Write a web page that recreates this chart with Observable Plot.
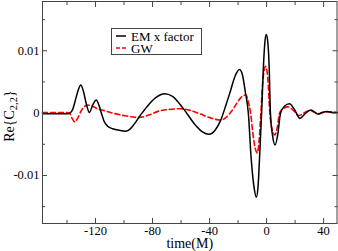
<!DOCTYPE html>
<html>
<head>
<meta charset="utf-8">
<script src="https://cdn.jsdelivr.net/npm/d3@7"></script>
<script src="https://cdn.jsdelivr.net/npm/@observablehq/plot@0.6"></script>
<style>
  html, body { margin: 0; padding: 0; background: #fff; }
  #wrap { position: relative; width: 338px; height: 251px; font-family: "Liberation Serif", "DejaVu Serif", serif; }
  #legend { position: absolute; left: 111px; top: 28px; width: 89px; height: 25px; border: 1px solid #444; background: #fff; font-size: 13px; line-height: 11px; }
  #legend .row { position: absolute; left: 4px; height: 11px; display: flex; align-items: center; white-space: nowrap; }
  #legend span { line-height: 11px; }
  #legend svg { margin-right: 5px; }
</style>
</head>
<body>
<div id="wrap"></div>
<script>
// ---- data ----
const emTime = [-157.2, -145, -139, -137.5, -136, -134, -132, -130.3, -128.5, -126.5, -124.3, -122, -119.5, -117.5, -115.5, -114, -111.5, -108, -104, -99, -96, -93, -88.4, -82.6, -77, -71.6, -66, -58, -50, -45, -40.5, -36, -32.3, -28.5, -25.3, -22, -19, -17, -15, -12.8, -10.8, -8.6, -7.2, -6, -5, -3.5, -2, -1, -0.2, 0.8, 1.8, 2.7, 4.2, 6, 7.8, 9.8, 12.5, 16.1, 19.5, 23.4, 27, 30.9, 33.5, 36, 39, 42.6, 46, 49.4];
const emValue = [-0.0001, -0.0001, -0.0001, 0.0001, 0.0006, 0.0022, 0.0038, 0.0045, 0.0035, 0.0015, 0.0001, 0.0013, 0.0021, 0.0012, -0.0003, -0.0013, -0.0021, -0.0025, -0.0027, -0.0029, -0.0026, -0.0018, -0.0003, 0.0014, 0.0026, 0.0031, 0.0027, 0.0006, -0.0019, -0.0030, -0.0034, -0.0027, -0.0012, 0.0013, 0.0036, 0.0060, 0.0070, 0.0062, 0.0035, 0.0000, -0.0073, -0.0122, -0.0135, -0.0118, -0.0075, 0.0000, 0.0085, 0.0118, 0.0126, 0.0115, 0.0075, 0.0000, -0.0036, -0.0051, -0.0035, 0.0000, 0.0011, 0.0015, 0.0006, -0.00086, -0.0001, 0.0005, 0.0002, -0.00016, 0.0001, 0.00026, 0.0001, 0.0001];

const gwTime = [-157.2, -140, -138.2, -136.5, -134.5, -132.5, -130, -127.5, -125.8, -122, -118.8, -114, -109.5, -100, -89.6, -82.6, -74.4, -60.4, -53, -46.3, -39, -32.3, -29, -26.4, -23, -20.6, -17, -14.5, -12.8, -11.2, -9.5, -7.8, -6.5, -5.3, -4, -2.5, -0.7, 0.8, 2.3, 4, 5.8, 7.5, 9.1, 11.5, 15, 19, 22.7, 26, 30.5, 34, 37, 41, 44, 49.4];
const gwValue = [0.0001, 0.0001, 0.0000, -0.0008, -0.0014, -0.0008, 0.0004, 0.0011, 0.0013, 0.0011, 0.0007, 0.0004, 0.0001, -0.0004, -0.0007, -0.0003, 0.0004, 0.0007, 0.0004, -0.00016, -0.0008, -0.0011, -0.0008, -0.0002, 0.0008, 0.0017, 0.0027, 0.0029, 0.0018, 0.0000, -0.0035, -0.0058, -0.0064, -0.0045, 0.0000, 0.0055, 0.0075, 0.0058, 0.0000, -0.0027, -0.0035, -0.0023, 0.0000, 0.0007, 0.0010, 0.0004, -0.0004, 0.0000, 0.0004, 0.0001, -0.0001, 0.0002, 0.0002, 0.0001];

const xMajorTicks = [-120, -80, -40, 0, 40];
const xMinorTicks = [-140, -100, -60, -20, 20];
const yMajorTicks = [-0.01, 0, 0.01];
const yMinorTicks = [-0.015, -0.005, 0.005, 0.015];
const xDomain = [-157.2, 49.4];
const yDomain = [-0.0177, 0.0179];

const seriesNames = ["EM x factor", "GW"];
const xLabel = "time(M)";

const em = emTime.map((t, i) => ({t, v: emValue[i]}));
const gw = gwTime.map((t, i) => ({t, v: gwValue[i]}));

const fmtX = d => String(d);
const fmtY = d => d === 0 ? "0" : String(d);
const axisColor = "#444";

const plot = Plot.plot({
  width: 338,
  height: 251,
  marginLeft: 42,
  marginRight: 1.5,
  marginTop: 1,
  marginBottom: 28,
  style: {fontFamily: "Liberation Serif, DejaVu Serif, serif", background: "#fff", overflow: "visible"},
  x: {domain: xDomain},
  y: {domain: yDomain},
  marks: [
    Plot.line(gw, {x: "t", y: "v", stroke: "#ff0000", strokeWidth: 1.6, strokeDasharray: "5,3", curve: "monotone-x"}),
    Plot.line(em, {x: "t", y: "v", stroke: "#000", strokeWidth: 1.5, curve: "monotone-x"}),
    Plot.frame({stroke: axisColor, strokeWidth: 1}),
    // inward ticks on all four sides
    Plot.axisX(xMajorTicks, {anchor: "bottom", tickSize: -5, fill: "none", stroke: axisColor, label: null}),
    Plot.axisX(xMinorTicks, {anchor: "bottom", tickSize: -3, fill: "none", stroke: axisColor, label: null}),
    Plot.axisX(xMajorTicks, {anchor: "top", tickSize: -5, fill: "none", stroke: axisColor, label: null}),
    Plot.axisX(xMinorTicks, {anchor: "top", tickSize: -3, fill: "none", stroke: axisColor, label: null}),
    Plot.axisY(yMajorTicks, {anchor: "left", tickSize: -5, fill: "none", stroke: axisColor, label: null}),
    Plot.axisY(yMinorTicks, {anchor: "left", tickSize: -3, fill: "none", stroke: axisColor, label: null}),
    Plot.axisY(yMajorTicks, {anchor: "right", tickSize: -5, fill: "none", stroke: axisColor, label: null}),
    Plot.axisY(yMinorTicks, {anchor: "right", tickSize: -3, fill: "none", stroke: axisColor, label: null}),
    // tick labels
    Plot.axisX(xMajorTicks, {anchor: "bottom", tickSize: 0, tickPadding: 3, tickFormat: fmtX, fontSize: 12.5, fill: "#000", label: null}),
    Plot.axisY(yMajorTicks, {anchor: "left", tickSize: 0, tickPadding: 3, tickFormat: fmtY, fontSize: 12.5, fill: "#000", label: null}),
    // x axis title
    Plot.text([xLabel], {text: d => d, frameAnchor: "bottom", lineAnchor: "bottom", dy: 24, fontSize: 14, fill: "#000"})
  ]
});

const svg = d3.select(plot);
// y axis title with subscript
const yt = svg.append("text")
  .attr("transform", "translate(14,116) rotate(-90)")
  .attr("text-anchor", "middle")
  .attr("font-size", 14)
  .attr("font-family", "Liberation Serif, DejaVu Serif, serif")
  .attr("fill", "#000");
yt.append("tspan").text("Re{C");
yt.append("tspan").attr("font-size", 10.5).attr("dy", 3).text("2,2");
yt.append("tspan").attr("dy", -3).text("}");

const wrap = document.getElementById("wrap");
wrap.appendChild(plot);

// legend
const legend = document.createElement("div");
legend.id = "legend";
const styles = [{stroke: "#000", dash: null}, {stroke: "#ff0000", dash: "4,2"}];
seriesNames.forEach((name, i) => {
  const row = document.createElement("div");
  row.className = "row";
  row.style.top = (i === 0 ? 1.5 : 13.5) + "px";
  const s = d3.create("svg").attr("width", 10).attr("height", 10);
  s.append("line").attr("x1", 0).attr("x2", 10).attr("y1", 5).attr("y2", 5)
    .attr("stroke", styles[i].stroke).attr("stroke-width", 1.5)
    .attr("stroke-dasharray", styles[i].dash);
  row.appendChild(s.node());
  const label = document.createElement("span");
  label.textContent = name;
  row.appendChild(label);
  legend.appendChild(row);
});
wrap.appendChild(legend);
</script>
</body>
</html>
